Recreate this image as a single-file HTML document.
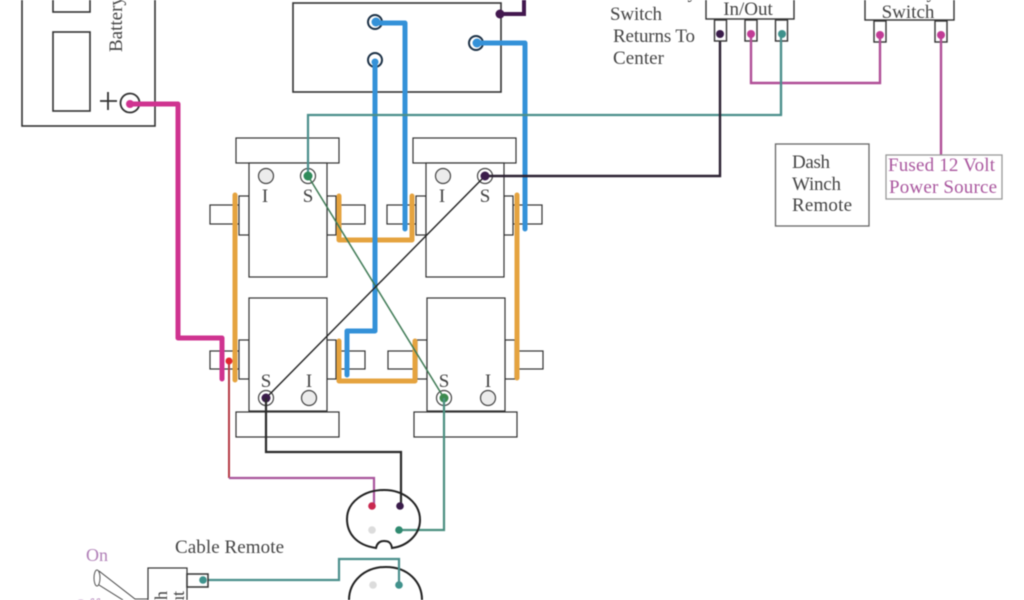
<!DOCTYPE html>
<html>
<head>
<meta charset="utf-8">
<style>
html,body{margin:0;padding:0;background:#fff;width:1024px;height:600px;overflow:hidden}
svg{display:block;filter:blur(0.4px)}
text{font-family:"Liberation Serif",serif;fill:#444}
</style>
</head>
<body>
<svg width="1024" height="600" viewBox="0 0 1024 600" xmlns="http://www.w3.org/2000/svg">
<rect width="1024" height="600" fill="#fff"/>

<!-- Battery -->
<g fill="none" stroke="#333" stroke-width="1.6">
<rect x="22" y="-10" width="133" height="136"/>
<rect x="53" y="-10" width="37" height="22"/>
<rect x="53" y="32" width="37" height="79"/>
<circle cx="130" cy="103" r="9.5" stroke-width="1.8"/>
<path d="M100 101H117M108 92V110" stroke-width="1.8"/>
</g>
<text transform="translate(122,52) rotate(-90)" font-size="19">Battery</text>

<!-- Top box -->
<rect x="293" y="3" width="208" height="89" fill="none" stroke="#333" stroke-width="1.6"/>
<g fill="none" stroke="#1c3146" stroke-width="2">
<circle cx="375" cy="22" r="7"/>
<circle cx="375" cy="60" r="7"/>
<circle cx="476" cy="43" r="7"/>
</g>

<!-- Solenoids -->
<g fill="#fff" stroke="#333" stroke-width="1.2">
<rect x="210" y="205" width="29" height="19"/><rect x="336" y="205" width="29" height="19"/>
<rect x="387" y="205" width="29" height="19"/><rect x="513" y="205" width="29" height="19"/>
<rect x="210" y="351" width="29" height="18"/><rect x="336" y="351" width="29" height="18"/>
<rect x="388" y="351" width="29" height="18"/><rect x="515" y="351" width="28" height="18"/>

<rect x="239" y="196" width="10" height="39"/><rect x="327" y="196" width="9" height="39"/>
<rect x="416" y="196" width="10" height="39"/><rect x="504" y="196" width="9" height="39"/>
<rect x="239" y="340" width="10" height="39"/><rect x="327" y="340" width="9" height="39"/>
<rect x="417" y="340" width="10" height="39"/><rect x="505" y="340" width="10" height="39"/>

<rect x="236" y="138" width="103" height="25"/>
<rect x="413" y="138" width="103" height="25"/>
<rect x="236" y="412" width="103" height="25"/>
<rect x="414" y="412" width="103" height="25"/>

<rect x="249" y="163" width="78" height="114"/>
<rect x="426" y="163" width="78" height="114"/>
<rect x="249" y="298" width="78" height="113"/>
<rect x="427" y="298" width="78" height="113"/>
</g>

<!-- Terminal rings -->
<g fill="#ececec" stroke="#444" stroke-width="1.2">
<circle cx="266" cy="176" r="7.5"/>
<circle cx="443" cy="176" r="7.5"/>
<circle cx="309" cy="398" r="7.5"/>
<circle cx="488" cy="398" r="7.5"/>
</g>
<g fill="#fff" stroke="#444" stroke-width="1.2">
<circle cx="308" cy="176" r="7.5"/>
<circle cx="485" cy="176" r="7.5"/>
<circle cx="266" cy="398" r="7.5"/>
<circle cx="444" cy="398" r="7.5"/>
</g>

<g font-size="19" text-anchor="middle">
<text x="265" y="202">I</text><text x="308" y="202">S</text>
<text x="442" y="202">I</text><text x="485" y="202">S</text>
<text x="266" y="387">S</text><text x="309" y="387">I</text>
<text x="444" y="387">S</text><text x="488" y="387">I</text>
</g>

<!-- Orange wires -->
<g fill="none" stroke="#e5a33f" stroke-width="5" stroke-linecap="round" stroke-linejoin="round">
<path d="M235 195V380"/>
<path d="M517 195V378"/>
<path d="M339 196V240H412V196"/>
<path d="M339 341V381H415V341"/>
</g>

<!-- Blue wires -->
<g fill="none" stroke="#3491d8" stroke-width="5" stroke-linecap="round" stroke-linejoin="round">
<path d="M376 23H405V229"/>
<path d="M375 62V331H347V375"/>
<path d="M477 43H525V229"/>
</g>
<circle cx="376" cy="22" r="4.500" fill="#3491d8"/>
<circle cx="375" cy="62" r="3.500" fill="#3491d8"/>
<circle cx="477" cy="43" r="4.500" fill="#3491d8"/>

<!-- Pink main -->
<path d="M130 104H178V338H222V379" fill="none" stroke="#cf3390" stroke-width="5" stroke-linejoin="round" stroke-linecap="round"/>
<circle cx="130" cy="104" r="4" fill="#cf3390"/>

<!-- Purple top -->
<path d="M500 14H524V-2" fill="none" stroke="#43184f" stroke-width="4"/>
<circle cx="500" cy="14" r="4.5" fill="#43184f"/>

<!-- Crossing thin wires -->
<path d="M308 176L444 398" stroke="#3f7a55" stroke-width="1.5" fill="none"/>
<path d="M485 176L266 398" stroke="#222" stroke-width="1.4" fill="none"/>

<!-- Teal long -->
<path d="M308 176V115H781V34" fill="none" stroke="#4b8f8c" stroke-width="2.2"/>
<!-- Black to in/out -->
<path d="M485 176H720V34" fill="none" stroke="#2c2233" stroke-width="2.4"/>

<circle cx="308" cy="176" r="4.500" fill="#2f8a5a"/>
<circle cx="485" cy="176" r="4.500" fill="#3a1c4a"/>
<circle cx="266" cy="398" r="4.500" fill="#3a1c4a"/>
<circle cx="444" cy="398" r="4.500" fill="#3c8a4e"/>

<!-- Top right boxes -->
<g fill="#fff" stroke="#333" stroke-width="1.4">
<rect x="706" y="-5" width="88" height="24"/>
<rect x="865" y="-5" width="89" height="25"/>
<rect x="714.500" y="20" width="12" height="21"/>
<rect x="745" y="20" width="12" height="21"/>
<rect x="775.500" y="20" width="12" height="21"/>
<rect x="874" y="21" width="12" height="21"/>
<rect x="935" y="21" width="12" height="21"/>
</g>
<text x="748" y="15" font-size="19" text-anchor="middle">In/Out</text>
<text x="908" y="18" font-size="19" text-anchor="middle">Switch</text>
<text x="697" y="-2" font-size="19" text-anchor="end">Momentary</text>
<text x="908" y="-2" font-size="19" text-anchor="middle">Battery</text>

<g fill="none" stroke="#b04f97" stroke-width="2.4">
<path d="M751 34V83H880V35"/>
<path d="M941 35V155"/>
</g>
<path d="M781 34V115" fill="none" stroke="#4b8f8c" stroke-width="2.2"/>
<circle cx="720" cy="34" r="4" fill="#3a1c4a"/>
<circle cx="751" cy="34" r="4" fill="#c13c96"/>
<circle cx="782" cy="34" r="4" fill="#3f928c"/>
<circle cx="880" cy="35" r="4" fill="#c13c96"/>
<circle cx="941" cy="35" r="4" fill="#c13c96"/>

<!-- Labels -->
<g font-size="19">
<text x="610" y="20" textLength="52">Switch</text>
<text x="613" y="42" textLength="82">Returns To</text>
<text x="613" y="64" textLength="51">Center</text>
</g>

<rect x="775.500" y="144" width="93.500" height="82" fill="none" stroke="#666" stroke-width="1.3"/>
<g font-size="19">
<text x="792" y="168" textLength="38">Dash</text>
<text x="792" y="190" textLength="49">Winch</text>
<text x="792" y="211" textLength="60">Remote</text>
</g>

<rect x="886" y="155" width="116" height="44" fill="none" stroke="#999" stroke-width="1.3"/>
<g font-size="19">
<text x="888" y="171" textLength="107" style="fill:#a9569e">Fused 12 Volt</text>
<text x="889" y="193" textLength="108" style="fill:#a9569e">Power Source</text>
</g>

<!-- Lower wires -->
<path d="M229 361V478" fill="none" stroke="#b53a44" stroke-width="2"/>
<path d="M229 478H374V505" fill="none" stroke="#a9559c" stroke-width="2.2"/>
<circle cx="229" cy="361" r="3.500" fill="#e0262f"/>
<path d="M266 398V452H401V505" fill="none" stroke="#2a2a2a" stroke-width="2.2"/>
<path d="M444 398V530H399" fill="none" stroke="#4b8f80" stroke-width="2.2"/>

<!-- Connector 1 -->
<path d="M376 548C355 545 347 532 347 519C347 502 364 490 384 490C404 490 420 503 420 520C420 534 408 546 392 548C391 542 388 541 384 541C380 541 377 543 376 548Z" fill="none" stroke="#222" stroke-width="2"/>
<circle cx="372" cy="506" r="3.800" fill="#c9284f"/>
<circle cx="400" cy="506" r="3.800" fill="#3a1c4a"/>
<circle cx="372" cy="530" r="3.800" fill="#dcdcdc"/>
<circle cx="399" cy="530" r="3.800" fill="#2f8a70"/>

<!-- Connector 2 -->
<path d="M349 600C349 582 364 567 386 567C408 567 422 582 422 600" fill="none" stroke="#222" stroke-width="2"/>
<circle cx="373" cy="585" r="3.800" fill="#dcdcdc"/>
<circle cx="399" cy="585" r="3.800" fill="#3f928c"/>
<path d="M203 580H339V559H399V585" fill="none" stroke="#4b8f8c" stroke-width="2.200"/>

<!-- Cable remote switch -->
<text x="175" y="553" font-size="19" textLength="109">Cable Remote</text>
<text x="86" y="561" font-size="18" style="fill:#b07fb7">On</text>
<rect x="148" y="568" width="39" height="34" fill="#fff" stroke="#333" stroke-width="1.2"/>
<rect x="187" y="574" width="21" height="13" fill="#fff" stroke="#333" stroke-width="1.5"/>
<circle cx="203" cy="580" r="3.800" fill="#3f928c"/>
<ellipse cx="97" cy="578" rx="3" ry="8" fill="#fff" stroke="#555" stroke-width="1"/>
<path d="M99 571L135 599H148M99 585L123 600" fill="none" stroke="#444" stroke-width="1"/>
<text transform="translate(167,591) rotate(-90)" font-size="18" text-anchor="end">Switch</text>
<text transform="translate(184,591) rotate(-90)" font-size="18" text-anchor="end">Shut</text>
<text x="74" y="612" font-size="19" style="fill:#b07fb7">Off</text>
</svg>
</body>
</html>
